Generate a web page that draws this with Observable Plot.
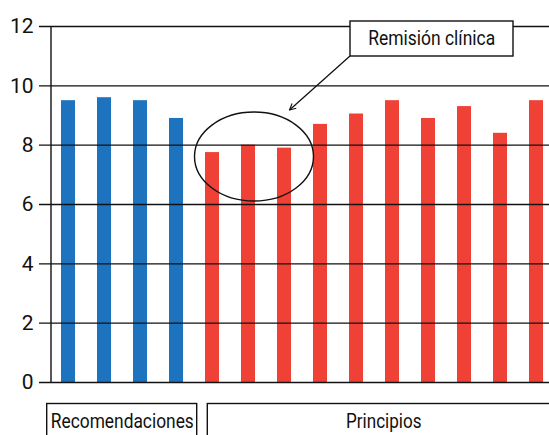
<!DOCTYPE html>
<html>
<head>
<meta charset="utf-8">
<script src="https://cdn.jsdelivr.net/npm/d3@7"></script>
<script src="https://cdn.jsdelivr.net/npm/@observablehq/plot@0.6"></script>
<style>
  html, body { margin: 0; padding: 0; background: #fff; }
  #chart { width: 549px; height: 435px; overflow: hidden; }
</style>
</head>
<body>
<div id="chart"></div>
<script>
const categories = ["R1","R2","R3","R4","P1","P2","P3","P4","P5","P6","P7","P8","P9","P10"];
const groups = ["Recomendaciones","Recomendaciones","Recomendaciones","Recomendaciones",
  "Principios","Principios","Principios","Principios","Principios",
  "Principios","Principios","Principios","Principios","Principios"];
const values = [9.5, 9.6, 9.5, 8.9, 7.75, 8.0, 7.9, 8.7, 9.05, 9.5, 8.9, 9.3, 8.4, 9.5];
const yTicks = [0, 2, 4, 6, 8, 10, 12];
const groupColors = {Recomendaciones: "#1e73be", Principios: "#f04137"};
const annotationText = "Remisión clínica";
const groupLabels = ["Recomendaciones", "Principios"];

const FONT = "'Roboto', 'Liberation Sans', sans-serif";

const data = categories.map((c, i) => ({cat: c, group: groups[i], value: values[i]}));

const plot = Plot.plot({
  width: 549,
  height: 435,
  marginLeft: 51,
  marginRight: 0,
  marginTop: 26,
  marginBottom: 53,
  style: {fontFamily: FONT, fontSize: "21px", color: "#111", background: "#fff"},
  x: {domain: categories, paddingInner: 0.611, paddingOuter: 0.222, align: 0.625, round: false, axis: null},
  y: {domain: [0, 12], ticks: yTicks, tickSize: 0, tickPadding: 18, label: null},
  marks: [
    Plot.barY(data, {x: "cat", y: "value", fill: d => groupColors[d.group]}),
    Plot.ruleY(yTicks, {insetLeft: -12, stroke: "#111", strokeWidth: 1.4})
  ]
});

const svg = d3.select(plot);
const xs = plot.scale("x"), ys = plot.scale("y");
const bw = xs.bandwidth;

// vertical axis line
svg.append("line")
  .attr("x1", 51).attr("x2", 51)
  .attr("y1", ys.apply(12)).attr("y2", ys.apply(0))
  .attr("stroke", "#111").attr("stroke-width", 1.4);

// ellipse annotation around bars P1..P3
const cx = xs.apply(categories[5]) + bw / 2 + 6;
svg.append("ellipse")
  .attr("cx", cx).attr("cy", ys.apply(7.6))
  .attr("rx", 59.5).attr("ry", 44.5)
  .attr("fill", "none").attr("stroke", "#111").attr("stroke-width", 1.4);

// arrow marker
const defs = svg.append("defs");
defs.append("marker")
  .attr("id", "arr").attr("viewBox", "0 0 10 10")
  .attr("refX", 9).attr("refY", 5)
  .attr("markerWidth", 6).attr("markerHeight", 6)
  .attr("orient", "auto")
  .append("path").attr("d", "M1,1 L9,5 L1,9")
  .attr("fill", "none").attr("stroke", "#111").attr("stroke-width", 1.4);

svg.append("line")
  .attr("x1", 350).attr("y1", 56)
  .attr("x2", 289.5).attr("y2", 110)
  .attr("stroke", "#111").attr("stroke-width", 1.3)
  .attr("marker-end", "url(#arr)");

// text box
svg.append("rect")
  .attr("x", 350).attr("y", 21).attr("width", 163).attr("height", 35)
  .attr("fill", "#fff").attr("stroke", "#111").attr("stroke-width", 1.4);
svg.append("text")
  .attr("x", 431.7).attr("y", 44.5)
  .attr("text-anchor", "middle")
  .attr("font-family", FONT).attr("font-size", 21).attr("fill", "#111")
  .attr("textLength", 127).attr("lengthAdjust", "spacingAndGlyphs")
  .text(annotationText);

// group boxes below
const gb = [
  {label: groupLabels[0], x1: 46.7, x2: 196.7, tx: 122.3, len: 143},
  {label: groupLabels[1], x1: 207.3, x2: 560, tx: 383.8, len: 75.5}
];
gb.forEach(g => {
  svg.append("rect")
    .attr("x", g.x1).attr("y", 403.5).attr("width", g.x2 - g.x1).attr("height", 50)
    .attr("fill", "none").attr("stroke", "#111").attr("stroke-width", 1.4);
  svg.append("text")
    .attr("x", g.tx).attr("y", 427.5)
    .attr("text-anchor", "middle")
    .attr("font-family", FONT).attr("font-size", 21).attr("fill", "#111")
    .attr("textLength", g.len).attr("lengthAdjust", "spacingAndGlyphs")
    .text(g.label);
});

document.getElementById("chart").appendChild(plot);
</script>
</body>
</html>
